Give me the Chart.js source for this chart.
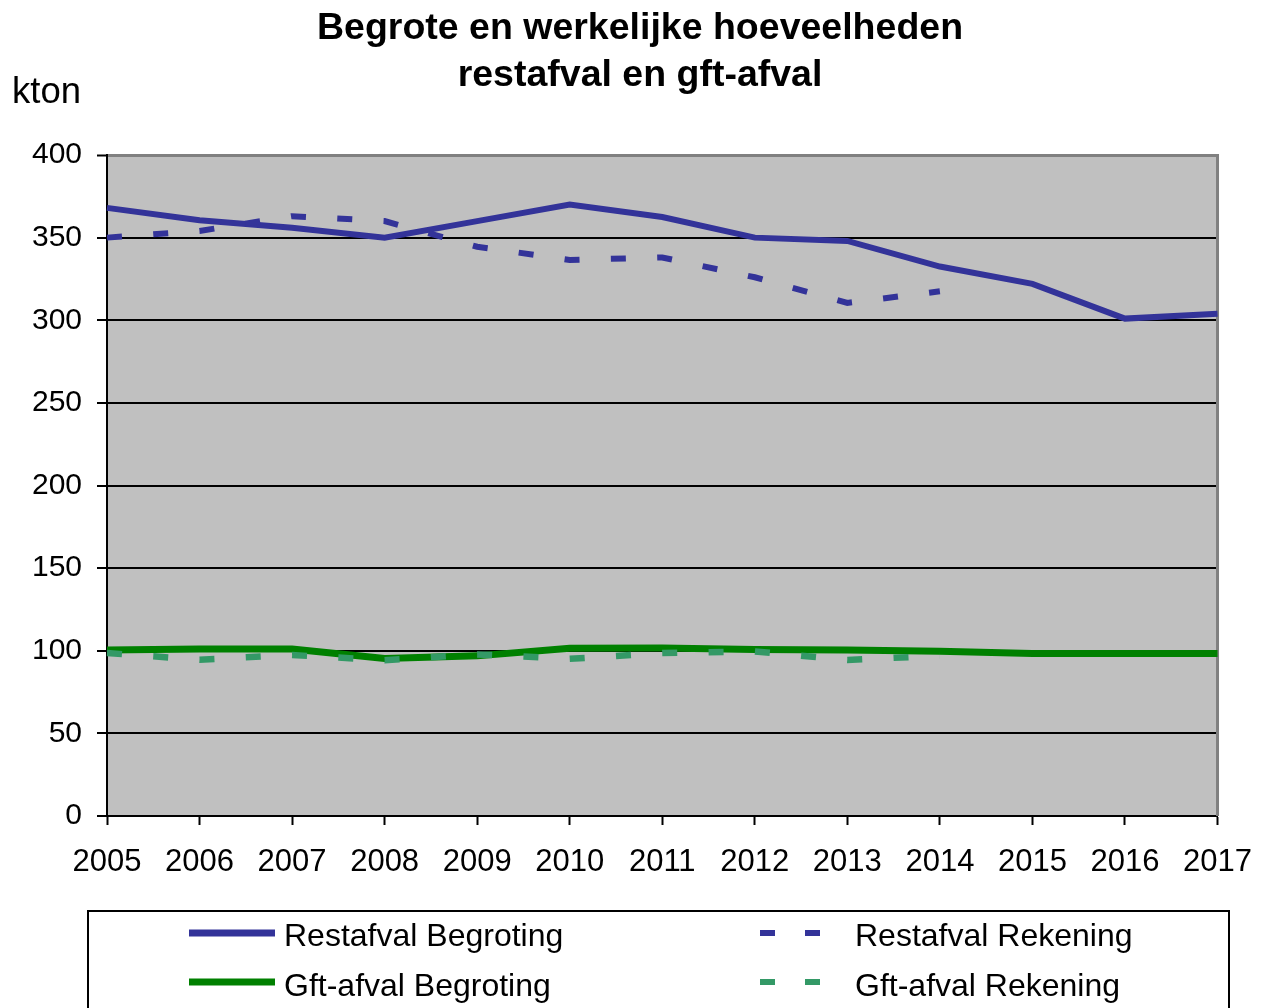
<!DOCTYPE html>
<html><head><meta charset="utf-8">
<script src="https://cdn.jsdelivr.net/npm/chart.js@4.4.0/dist/chart.umd.min.js"></script>
<style>html,body{margin:0;padding:0;background:#fff;}</style>
</head><body>
<canvas id="c" width="1271" height="1008"></canvas>
<script>
const years = ['2005','2006','2007','2008','2009','2010','2011','2012','2013','2014','2015','2016','2017'];
const restafvalBegroting = [368, 360.5, 356, 350, 360, 370, 362.5, 350, 348, 332.5, 322, 301, 304];
const restafvalRekening  = [350, 354, 363, 360, 344.5, 336.5, 338, 326, 310.5, 317.5, null, null, null];
const gftBegroting = [100.4, 101, 101, 95.3, 96.9, 101.5, 101.7, 100.7, 100.4, 99.7, 98.3, 98.3, 98.3];
const gftRekening  = [98.6, 94.6, 97.4, 94.3, 97.8, 95.1, 98.6, 99.6, 94.4, 97, null, null, null];
const titleLines = ['Begrote en werkelijke hoeveelheden', 'restafval en gft-afval'];
const unitLabel = 'kton';
const seriesNames = ['Restafval Begroting', 'Restafval Rekening', 'Gft-afval Begroting', 'Gft-afval Rekening'];

const FONT = '"Liberation Sans", Arial, sans-serif';
const BLUE = '#333399', GREEN = '#008000', TEAL = '#339966';

const decor = {
  id: 'decor',
  beforeDraw(chart) {
    const {ctx, chartArea: a} = chart;
    ctx.save();
    ctx.fillStyle = '#C0C0C0';
    ctx.fillRect(a.left, a.top, a.right - a.left, a.bottom - a.top);
    ctx.restore();
  },
  beforeDatasetsDraw(chart) {
    const {ctx, chartArea: a} = chart;
    ctx.save();
    ctx.strokeStyle = '#808080';
    ctx.lineWidth = 3;
    ctx.beginPath();
    ctx.moveTo(a.right, a.top - 1);
    ctx.lineTo(a.right, a.bottom);
    ctx.stroke();
    ctx.restore();
  },
  afterDraw(chart) {
    const {ctx} = chart;
    const ds = chart.data.datasets;
    ctx.save();
    // title
    ctx.fillStyle = '#000';
    ctx.font = 'bold 37.5px ' + FONT;
    ctx.textAlign = 'center';
    ctx.textBaseline = 'alphabetic';
    ctx.fillText(titleLines[0], 640, 39);
    ctx.fillText(titleLines[1], 640, 86);
    // unit label
    ctx.font = '36.5px ' + FONT;
    ctx.textAlign = 'left';
    ctx.fillText(unitLabel, 12, 103);
    // legend box
    ctx.fillStyle = '#fff';
    ctx.fillRect(88, 911, 1141, 120);
    ctx.strokeStyle = '#000';
    ctx.lineWidth = 2;
    ctx.strokeRect(88, 911, 1141, 120);
    ctx.font = '32px ' + FONT;
    const rows = [933, 982];
    const bases = [946, 996];
    const order = [[0, 1], [2, 3]];
    order.forEach((pair, r) => {
      pair.forEach((idx, c) => {
        const d = ds[idx];
        const y = rows[r];
        ctx.fillStyle = d.borderColor;
        if (c === 0) {
          ctx.fillRect(189, y - 3.5, 86, 7);
          ctx.fillStyle = '#000';
          ctx.fillText(d.label, 284, bases[r]);
        } else {
          ctx.fillRect(760, y - 3, 15, 6);
          ctx.fillRect(805, y - 3, 15, 6);
          ctx.fillStyle = '#000';
          ctx.fillText(d.label, 855, bases[r]);
        }
      });
    });
    ctx.restore();
  }
};

new Chart(document.getElementById('c'), {
  type: 'line',
  data: {
    labels: years,
    datasets: [
      {label: seriesNames[0], data: restafvalBegroting, borderColor: BLUE, backgroundColor: BLUE, borderWidth: 6, order: 2},
      {label: seriesNames[1], data: restafvalRekening, borderColor: BLUE, backgroundColor: BLUE, borderWidth: 6, borderDash: [15, 31.35], order: 1},
      {label: seriesNames[2], data: gftBegroting, borderColor: GREEN, backgroundColor: GREEN, borderWidth: 7, order: 4},
      {label: seriesNames[3], data: gftRekening, borderColor: TEAL, backgroundColor: TEAL, borderWidth: 6.5, borderDash: [15, 31.35], order: 3}
    ]
  },
  options: {
    responsive: false,
    animation: false,
    devicePixelRatio: 1,
    layout: {padding: {left: 0, right: 52, top: 155, bottom: 0}},
    elements: {
      point: {radius: 0, hoverRadius: 0},
      line: {tension: 0, borderCapStyle: 'butt', borderJoinStyle: 'miter', fill: false}
    },
    plugins: {
      legend: {display: false},
      tooltip: {enabled: false},
      title: {display: false}
    },
    scales: {
      x: {
        type: 'category',
        offset: false,
        afterFit(s) { s.height = 192; },
        grid: {drawOnChartArea: false, drawTicks: true, tickLength: 9, tickColor: '#000', tickWidth: 2},
        border: {display: true, color: '#000', width: 2},
        ticks: {color: '#000', font: {family: FONT, size: 31}, padding: 19, maxRotation: 0, autoSkip: false}
      },
      y: {
        min: 0, max: 400,
        afterFit(s) { s.width = 107; },
        grid: {
          color: (c) => (c.tick && c.tick.value === 400) ? '#808080' : '#000',
          lineWidth: (c) => (c.tick && c.tick.value === 400) ? 3 : 2,
          drawTicks: true, tickLength: 10, tickColor: '#000', tickWidth: 2
        },
        border: {display: true, color: '#000', width: 2},
        ticks: {stepSize: 50, color: '#000', font: {family: FONT, size: 30}, padding: 15}
      }
    }
  },
  plugins: [decor]
});
</script>
</body></html>
